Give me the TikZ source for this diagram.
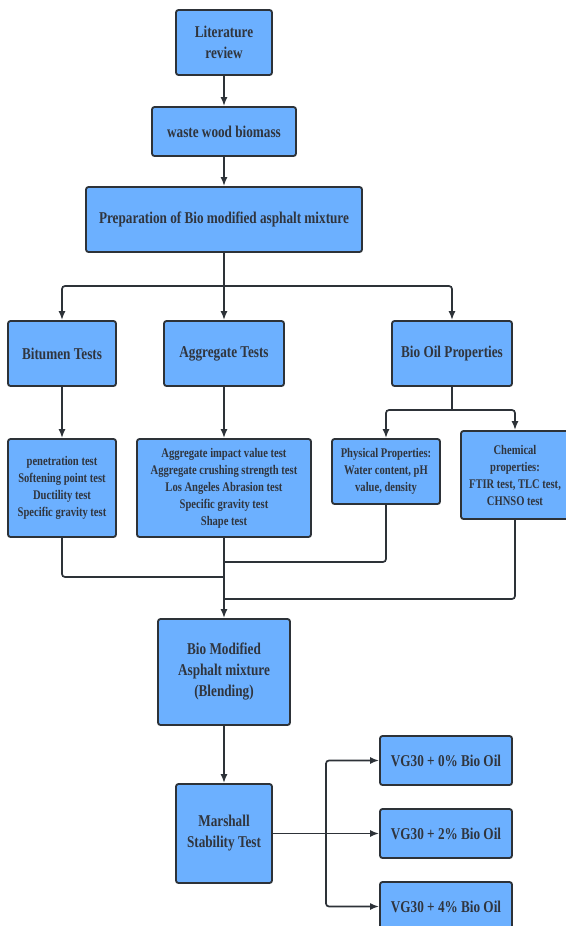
\documentclass[tikz,border=0pt]{standalone}
\usepackage{fontspec}
\setmainfont{Liberation Serif}[FakeStretch=0.8]
\usetikzlibrary{arrows.meta}

\definecolor{boxblue}{RGB}{108,176,255}
\definecolor{boxline}{RGB}{45,50,56}
\definecolor{boxtext}{RGB}{48,53,62}

\tikzset{
	box/.style={draw=boxline, line width=1.8pt, fill=boxblue, rounded corners=2.5pt,
		text=boxtext, font=\fontsize{16.5}{21}\selectfont\bfseries, align=center,
		inner sep=0pt},
	smallbox/.style={box, font=\fontsize{13.2}{17}\selectfont\bfseries},
	link/.style={draw=boxline, line width=1.7pt, rounded corners=3pt},
	arrow/.style={link, -{Latex[length=9pt,width=7pt]}}
}

\begin{document}
\begin{tikzpicture}[x=1pt, y=-1pt]
	\useasboundingbox (0,0) rectangle (565,926);

	\node [box, minimum width=96pt, minimum height=65pt] (lit) at (224, 42.5) {Literature\\review};
	\node [box, minimum width=144pt, minimum height=49pt] (wood) at (224, 131.5) {waste wood biomass};
	\node [box, minimum width=276pt, minimum height=65pt] (prep) at (224, 219.5) {Preparation of Bio modified asphalt mixture};

	\node [box, minimum width=108pt, minimum height=65pt] (bit) at (62, 353.5) {Bitumen Tests};
	\node [box, minimum width=120pt, minimum height=65pt] (agg) at (224, 353.5) {Aggregate Tests};
	\node [box, minimum width=120pt, minimum height=65pt] (bio) at (452, 353.5) {Bio Oil Properties};

	\node [smallbox, minimum width=108pt, minimum height=98pt] (bitlist) at (62, 488) {penetration test\\Softening point test\\Ductility test\\Specific gravity test};
	\node [smallbox, minimum width=174pt, minimum height=98pt] (agglist) at (224, 488) {Aggregate impact value test\\Aggregate crushing strength test\\Los Angeles Abrasion test\\Specific gravity test\\Shape test};
	\node [smallbox, minimum width=108pt, minimum height=65pt] (phys) at (386, 471.5) {Physical Properties:\\Water content, pH\\value, density};
	\node [smallbox, minimum width=108pt, minimum height=88pt] (chem) at (515, 475) {Chemical\\properties:\\FTIR test, TLC test,\\CHNSO test};

	\node [box, minimum width=132pt, minimum height=106pt] (blend) at (224, 672) {Bio Modified\\Asphalt mixture\\(Blending)};
	\node [box, minimum width=96pt, minimum height=99pt] (marsh) at (224, 833.5) {Marshall\\Stability Test};

	\node [box, minimum width=132pt, minimum height=49pt] (vg0) at (446, 760.5) {VG30 + 0\% Bio Oil};
	\node [box, minimum width=132pt, minimum height=49pt] (vg2) at (446, 833.5) {VG30 + 2\% Bio Oil};
	\node [box, minimum width=132pt, minimum height=49pt] (vg4) at (446, 906.5) {VG30 + 4\% Bio Oil};

	% branch points
	\coordinate (split) at (224, 286);
	\coordinate (biosplit) at (452, 410);
	\coordinate (joinA) at (224, 577);
	\coordinate (joinB) at (224, 562);
	\coordinate (joinC) at (224, 599);
	\coordinate (vgsplit) at (326, 833.5);

	\draw [arrow] (lit) -- (wood);
	\draw [arrow] (wood) -- (prep);

	\draw [link] (prep) -- (split);
	\draw [arrow] (split) -| (bit);
	\draw [arrow] (split) -- (agg);
	\draw [arrow] (split) -| (bio);

	\draw [arrow] (bit) -- (bitlist);
	\draw [arrow] (agg) -- (agglist);
	\draw [link] (bio) -- (biosplit);
	\draw [arrow] (biosplit) -| (phys);
	\draw [arrow] (biosplit) -| (chem);

	\draw [link] (bitlist) |- (joinA);
	\draw [link] (phys) |- (joinB);
	\draw [link] (chem) |- (joinC);
	\draw [arrow] (agglist) -- (blend);

	\draw [arrow] (blend) -- (marsh);
	\draw [arrow] (marsh) -- (vg2);
	\draw [arrow] (vgsplit) |- (vg0);
	\draw [arrow] (vgsplit) |- (vg4);
\end{tikzpicture}
\end{document}
